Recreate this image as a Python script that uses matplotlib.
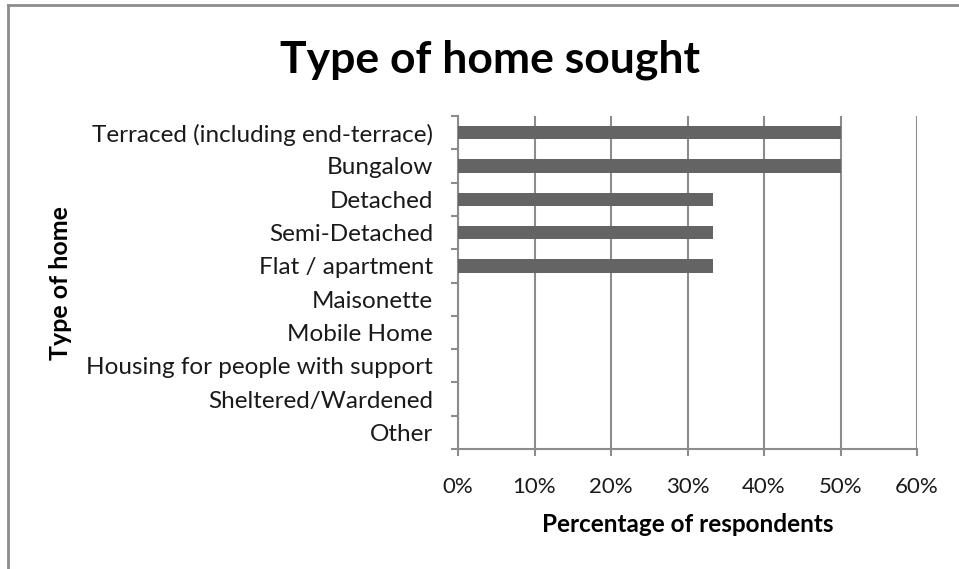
import matplotlib.pyplot as plt
from matplotlib.lines import Line2D
from matplotlib.ticker import FuncFormatter

categories = ["Terraced (including end-terrace)", "Bungalow", "Detached",
              "Semi-Detached", "Flat / apartment", "Maisonette", "Mobile Home",
              "Housing for people with support", "Sheltered/Wardened", "Other"]
values = [50, 50, 33.33, 33.33, 33.33, 0, 0, 0, 0, 0]

plt.rcParams['font.family'] = ['Lato', 'DejaVu Sans']

fig = plt.figure(figsize=(9.59, 5.69), dpi=100)
ax = fig.add_axes([458 / 959, 1 - 449 / 569, (917 - 458) / 959, (449 - 116) / 569])

gray = "#8c8c8c"
pos = list(range(len(categories)))
ax.barh(pos, values, height=0.4, color="#646464", zorder=3)
ax.set_ylim(len(categories) - 0.5, -0.5)
ax.set_xlim(0, 60)
ax.set_xticks(range(0, 61, 10))
ax.xaxis.set_major_formatter(FuncFormatter(lambda v, p: f"{v:.0f}%"))
ax.set_yticks(pos)
ax.set_yticklabels(categories)
ax.set_yticks([p - 0.5 for p in pos] + [len(pos) - 0.5], minor=True)
ax.tick_params(axis='y', which='major', length=0, pad=18, labelsize=17.5, labelcolor="#1a1a1a")
ax.tick_params(axis='y', which='minor', length=5, width=1.5, color=gray)
ax.tick_params(axis='x', length=5, width=1.5, color=gray, pad=15, labelsize=16, labelcolor="#1a1a1a")
ax.grid(axis='x', color=gray, linewidth=1.5, zorder=0)
for s in ['top', 'right']:
    ax.spines[s].set_visible(False)
for s in ['left', 'bottom']:
    ax.spines[s].set_color(gray)
    ax.spines[s].set_linewidth(1.5)

ax.set_xlabel("Percentage of respondents", fontsize=17.5, fontweight='bold', labelpad=12)
fig.text(60 / 959, 1 - 283 / 569, "Type of home", rotation=90, fontsize=18,
         fontweight='bold', ha='center', va='center')
fig.text(490 / 959, 1 - 60 / 569, "Type of home sought", fontsize=32,
         fontweight='bold', ha='center', va='center')

# outer frame (top and left edges only visible)
fig.add_artist(Line2D([8 / 959, 8 / 959], [0, 1 - 5 / 569], color=gray, linewidth=2, transform=fig.transFigure))
fig.add_artist(Line2D([8 / 959, 1], [1 - 5 / 569, 1 - 5 / 569], color=gray, linewidth=2, transform=fig.transFigure))

fig.savefig("out.png", dpi=100)
